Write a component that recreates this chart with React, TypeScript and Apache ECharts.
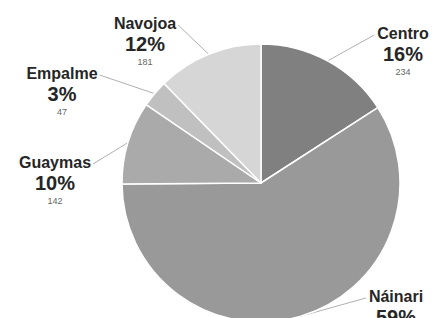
import React, { useEffect, useRef } from "react";
import * as echarts from "echarts";

const categories = ["Centro", "Náinari", "Guaymas", "Empalme", "Navojoa"];
const values = [234, 869, 142, 47, 181];
const colors = ["#808080", "#999999", "#aaaaaa", "#c0c0c0", "#d6d6d6"];
// label anchor: [center x, name-line center y]
const labelAnchors = [
  [403, 33],
  [396, 296],
  [55, 162],
  [62, 73],
  [145, 23],
];

export default function App() {
  const ref = useRef<HTMLDivElement>(null);
  useEffect(() => {
    if (!ref.current) return;
    const chart = echarts.init(ref.current, undefined, { renderer: "svg" });
    const cx = 261;
    chart.setOption({
      animation: false,
      backgroundColor: "#ffffff",
      series: [
        {
          type: "pie",
          center: [cx, 183],
          radius: 139,
          startAngle: 90,
          clockwise: true,
          percentPrecision: 0,
          avoidLabelOverlap: false,
          data: categories.map((c, i) => ({
            name: c,
            value: values[i],
            itemStyle: { color: colors[i] },
          })),
          itemStyle: { borderColor: "#ffffff", borderWidth: 1.5 },
          label: {
            show: true,
            position: "outside",
            formatter: "{n|{b}}\n{p|{d}%}\n{v|{c}}",
            fontFamily: "Liberation Sans",
            align: "center",
            rich: {
              n: { fontSize: 16, fontWeight: "bold", color: "#262626", fontFamily: "Liberation Sans", lineHeight: 20, align: "center" },
              p: { fontSize: 20, fontWeight: "bold", color: "#262626", fontFamily: "Liberation Sans", lineHeight: 22, align: "center" },
              v: { fontSize: 9, color: "#666666", fontFamily: "Liberation Sans", lineHeight: 14, align: "center" },
            },
          },
          labelLine: {
            show: true,
            length: 18,
            length2: 20,
            lineStyle: { color: "#b0b0b0", width: 1 },
          },
          labelLayout: (params: any) => {
            const i = params.dataIndex;
            const [ax, ay] = labelAnchors[i];
            const w = params.labelRect.width;
            const isRight = ax > cx;
            const p0 = params.labelLinePoints
              ? params.labelLinePoints[0]
              : [ax, ay];
            const end = [isRight ? ax - w / 2 - 3 : ax + w / 2 + 2, ay + 2];
            return {
              x: ax,
              y: ay - 10,
              align: "center",
              verticalAlign: "top",
              labelLinePoints: [p0, end, end],
            };
          },
        },
      ],
    });
    return () => chart.dispose();
  }, []);
  return (
    <div
      ref={ref}
      style={{ position: "fixed", left: 0, top: 0, width: 434, height: 318 }}
    />
  );
}
